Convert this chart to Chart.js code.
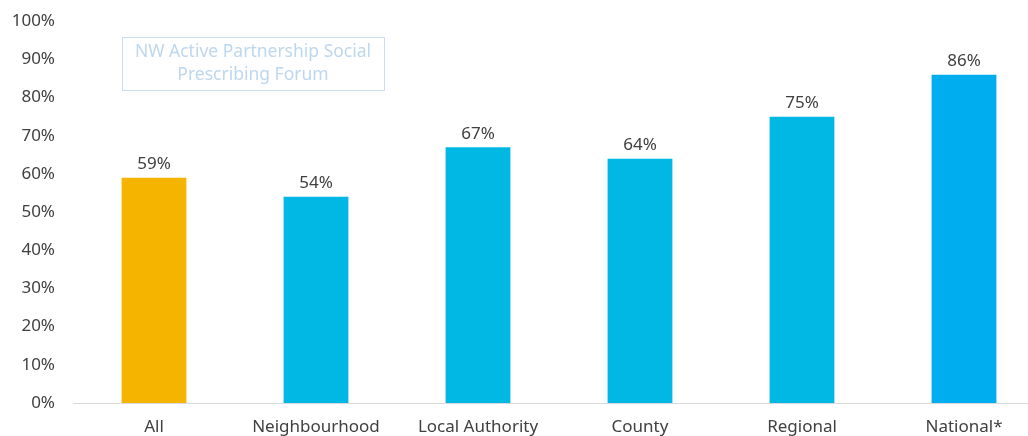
<!DOCTYPE html>
<html>
<head>
<meta charset="utf-8">
<script src="https://cdn.jsdelivr.net/npm/chart.js@4/dist/chart.umd.min.js"></script>
<style>
  html, body { margin: 0; padding: 0; background: #fff; overflow: hidden; }
  #wrap { width: 1045px; height: 443px; position: relative; margin-top: -7px; }
</style>
</head>
<body>
<div id="wrap"><canvas id="chart"></canvas></div>
<script>
var categories = ['All', 'Neighbourhood', 'Local Authority', 'County', 'Regional', 'National*'];
var values = [59, 54, 67, 64, 75, 86];
var barColors = ['#F4B400', '#00B8E3', '#00B8E3', '#00B8E3', '#00B8E3', '#00AEEF'];
var yTicks = [0, 10, 20, 30, 40, 50, 60, 70, 80, 90, 100];

var fontFamily = '"Noto Sans", "Open Sans", sans-serif';
var textColor = '#404040';

// value labels above each bar
var valueLabels = {
  id: 'valueLabels',
  afterDatasetsDraw: function(chart) {
    var ctx = chart.ctx;
    var meta = chart.getDatasetMeta(0);
    ctx.save();
    ctx.font = '17px ' + fontFamily;
    ctx.fillStyle = textColor;
    ctx.textAlign = 'center';
    ctx.textBaseline = 'bottom';
    meta.data.forEach(function(bar, i) {
      ctx.fillText(values[i] + '%', bar.x, bar.y - 5);
    });
    ctx.restore();
  }
};

// faint source box in upper left (canvas is shifted up 7px)
var sourceBox = {
  id: 'sourceBox',
  afterDraw: function(chart) {
    var ctx = chart.ctx;
    ctx.save();
    ctx.strokeStyle = '#C9DEF2';
    ctx.lineWidth = 1;
    ctx.strokeRect(122.5, 44.5, 262, 53);
    ctx.font = '17.5px ' + fontFamily;
    ctx.fillStyle = '#BDD7EE';
    ctx.textAlign = 'center';
    ctx.textBaseline = 'middle';
    ctx.fillText('NW Active Partnership Social', 253, 59);
    ctx.fillText('Prescribing Forum', 253, 82);
    ctx.restore();
  }
};

new Chart(document.getElementById('chart'), {
  type: 'bar',
  data: {
    labels: categories,
    datasets: [{
      data: values,
      backgroundColor: barColors,
      borderWidth: 0,
      barPercentage: 0.4,
      categoryPercentage: 1
    }]
  },
  options: {
    responsive: true,
    maintainAspectRatio: false,
    animation: false,
    layout: { padding: { top: 6, right: 0, bottom: 0, left: 0 } },
    plugins: {
      legend: { display: false },
      tooltip: { enabled: false }
    },
    scales: {
      x: {
        grid: { display: false, drawTicks: false },
        border: { color: '#D9D9D9', width: 1 },
        ticks: {
          color: textColor,
          font: { family: fontFamily, size: 17 },
          padding: 14,
          maxRotation: 0
        },
        afterFit: function(scale) { scale.height = 33; }
      },
      y: {
        min: 0,
        max: 100,
        afterBuildTicks: function(scale) {
          scale.ticks = yTicks.map(function(v) { return { value: v }; });
        },
        grid: { display: false, drawTicks: false },
        border: { display: false },
        ticks: {
          color: textColor,
          font: { family: fontFamily, size: 17 },
          padding: 18,
          callback: function(v) { return v + '%'; }
        },
        afterFit: function(scale) { scale.width = 73; }
      }
    }
  },
  plugins: [valueLabels, sourceBox]
});
</script>
</body>
</html>
